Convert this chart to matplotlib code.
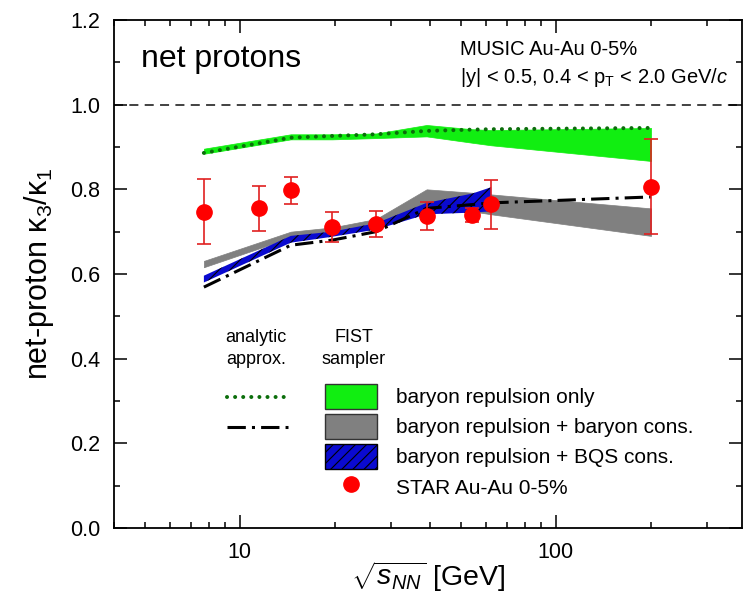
import numpy as np
import matplotlib
matplotlib.use('Agg')
import matplotlib.pyplot as plt
from matplotlib.patches import Patch
from matplotlib.lines import Line2D
from matplotlib.ticker import LogLocator, NullFormatter, FixedLocator, MultipleLocator, FormatStrFormatter

plt.rcParams['font.family'] = ['Liberation Sans', 'DejaVu Sans']
plt.rcParams['mathtext.fontset'] = 'custom'
plt.rcParams['mathtext.rm'] = 'Liberation Sans'
plt.rcParams['mathtext.it'] = 'Liberation Sans:italic'
plt.rcParams['mathtext.bf'] = 'Liberation Sans:bold'
plt.rcParams['hatch.linewidth'] = 0.8

# STAR data
star_e = [7.7, 11.5, 14.5, 19.6, 27, 39, 54.4, 62.4, 200]
star_val = [0.747, 0.755, 0.798, 0.711, 0.718, 0.737, 0.740, 0.765, 0.806]
star_err = [0.077, 0.054, 0.032, 0.035, 0.031, 0.032, 0.017, 0.058, 0.112]

# model energies
model_e = [7.7, 14.5, 19.6, 27, 39, 54.4, 62.4, 200]
bqs_e = [7.7, 14.5, 19.6, 27, 39, 54.4, 62.4]

# FIST sampler bands
rep_lo = [0.884, 0.918, 0.918, 0.921, 0.925, 0.910, 0.904, 0.867]
rep_hi = [0.896, 0.930, 0.930, 0.932, 0.952, 0.942, 0.940, 0.945]
bcons_lo = [0.616, 0.686, 0.694, 0.708, 0.765, 0.748, 0.741, 0.690]
bcons_hi = [0.631, 0.700, 0.710, 0.730, 0.800, 0.792, 0.788, 0.755]
bqs_lo = [0.580, 0.674, 0.688, 0.705, 0.741, 0.745, 0.748]
bqs_hi = [0.596, 0.690, 0.700, 0.720, 0.768, 0.790, 0.805]

# analytic approx.
rep_analytic = [0.886, 0.922, 0.926, 0.930, 0.938, 0.941, 0.942, 0.945]
bcons_analytic = [0.569, 0.668, 0.680, 0.700, 0.755, 0.764, 0.768, 0.782]

GREEN = '#11ee11'
GRAY = '#808080'
BLUE = '#0a0ad0'
DOT_GREEN = '#0b6e0b'
dot_style = (0, (0.01, 2.0))
dashdot_style = (0, (6, 2, 1, 2))

fig = plt.figure(figsize=(7.43, 5.98), dpi=100)
ax = fig.add_axes([0.1534, 0.117, 0.8453, 0.8496])

ax.axhline(1.0, color='#333333', lw=1.3, ls=(0, (5, 3.5)), zorder=0.5)

ax.fill_between(model_e, rep_lo, rep_hi, color=GREEN, lw=0.5, zorder=1)
ax.fill_between(model_e, bcons_lo, bcons_hi, color=GRAY, lw=0.5, zorder=2)
ax.fill_between(bqs_e, bqs_lo, bqs_hi, facecolor=BLUE, edgecolor='black', hatch='///', lw=0, zorder=3)

ax.plot(model_e, rep_analytic, color=DOT_GREEN, lw=2.9, ls=dot_style, dash_capstyle='round', zorder=4)
ax.plot(model_e, bcons_analytic, color='black', lw=2.2, ls=dashdot_style, zorder=4)

ax.errorbar(star_e, star_val, yerr=star_err, fmt='o', color='red', ecolor='#e02020',
            ms=11, capsize=5, elinewidth=1.2, capthick=1.2, zorder=5)

ax.set_xscale('log')
ax.set_xlim(4, 388)
ax.set_ylim(0, 1.2)
ax.xaxis.set_major_locator(FixedLocator([10, 100]))
ax.xaxis.set_major_formatter(FormatStrFormatter('%d'))
ax.xaxis.set_minor_locator(LogLocator(base=10, subs=np.arange(2, 10)))
ax.xaxis.set_minor_formatter(NullFormatter())
ax.yaxis.set_major_locator(MultipleLocator(0.2))
ax.yaxis.set_minor_locator(MultipleLocator(0.1))
ax.yaxis.set_major_formatter(FormatStrFormatter('%.1f'))

ax.tick_params(which='both', direction='in', top=True, right=True, width=1.1, labelsize=15.5, pad=10)
ax.tick_params(which='major', length=9.5)
ax.tick_params(which='minor', length=4.5)
for s in ax.spines.values():
    s.set_linewidth(1.3)

ax.set_xlabel(r'$\sqrt{s_{NN}}$ [GeV]', fontsize=20.5, labelpad=-2)
ax.set_ylabel('net-proton κ$_3$/κ$_1$', fontsize=22, labelpad=10)

ax.text(0.0425, 0.908, 'net protons', transform=ax.transAxes, fontsize=23, va='baseline')
ax.text(0.551, 0.931, 'MUSIC Au-Au 0-5%', transform=ax.transAxes, fontsize=14.5, va='baseline')
ax.text(0.551, 0.875, r'|y| < 0.5, 0.4 < p$_\mathregular{T}$ < 2.0 GeV/$c$', transform=ax.transAxes,
        fontsize=14.5, va='baseline')

ax.text(0.226, 0.354, 'analytic\napprox.', transform=ax.transAxes, fontsize=13, ha='center',
        va='center', linespacing=1.4)
ax.text(0.382, 0.354, 'FIST\nsampler', transform=ax.transAxes, fontsize=13, ha='center',
        va='center', linespacing=1.4)

h_lines = [Line2D([], [], color=DOT_GREEN, lw=2.9, ls=dot_style, dash_capstyle='round'),
           Line2D([], [], color='black', lw=2.2, ls=dashdot_style)]
leg1 = ax.legend(h_lines, [' ', ' '], loc='upper left', bbox_to_anchor=(0.1795, 0.2777),
                 frameon=False, fontsize=15, handlelength=2.95, handleheight=1.45,
                 labelspacing=0.26, borderpad=0, borderaxespad=0, handletextpad=0.5)
ax.add_artist(leg1)

h_fist = [Patch(facecolor=GREEN, edgecolor='#333333', lw=1),
          Patch(facecolor=GRAY, edgecolor='#333333', lw=1),
          Patch(facecolor=BLUE, edgecolor='black', hatch='///', lw=1),
          Line2D([], [], marker='o', color='red', ms=11, ls='none')]
l_fist = ['baryon repulsion only', 'baryon repulsion + baryon cons.',
          'baryon repulsion + BQS cons.', 'STAR Au-Au 0-5%']
ax.legend(h_fist, l_fist, loc='upper left', bbox_to_anchor=(0.336, 0.2837),
          frameon=False, fontsize=15, handlelength=2.5, handleheight=1.45,
          labelspacing=0.26, borderpad=0, borderaxespad=0, handletextpad=0.9)

fig.savefig('out.png', dpi=100)
